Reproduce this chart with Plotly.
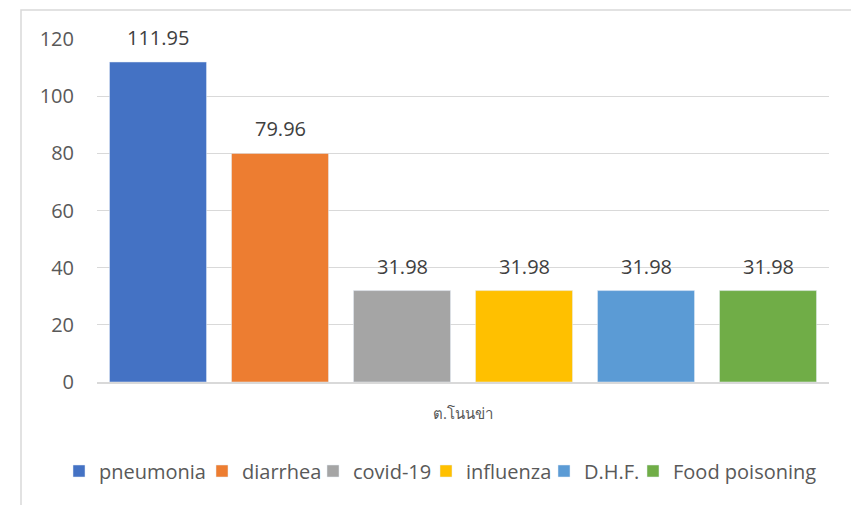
import plotly.graph_objects as go

category_label = "ต.โนนข่า"
series_names = ["pneumonia", "diarrhea", "covid-19", "influenza", "D.H.F.", "Food poisoning"]
series_values = [111.95, 79.96, 31.98, 31.98, 31.98, 31.98]
series_colors = ["#4472C4", "#ED7D31", "#A5A5A5", "#FFC000", "#5B9BD5", "#70AD47"]
legend_widths = [98, 66, 68, 73, 44, 148]
y_ticks = [0, 20, 40, 60, 80, 100, 120]

FONT = "Open Sans"
GRAY = "#595959"

OFF = 8  # page body margin
W, H = 859 - OFF, 505 - OFF
# plot area in reference pixel coordinates
PL, PR, PT, PB = 97, 829, 39, 382
L, R, T, B = PL - OFF, (W + OFF) - PR, PT - OFF, (H + OFF) - PB
pw, ph = PR - PL, PB - PT

def px_to_paper_x(px):
    return (px - PL) / pw

def px_to_paper_y(py):
    return (PB - py) / ph

fig = go.Figure()
for name, val, col, lw in zip(series_names, series_values, series_colors, legend_widths):
    fig.add_trace(go.Bar(x=[name], y=[val], name=name, marker_color=col, legendwidth=lw))

annotations = [
    dict(x=name, y=val, xref="x", yref="y", text=f"{val:.2f}", showarrow=False,
         yanchor="bottom", yshift=9,
         font=dict(family=FONT, size=20, color="#404040"))
    for name, val in zip(series_names, series_values)
]

fig.update_layout(
    width=W, height=H,
    margin=dict(l=L, r=R, t=T, b=B, autoexpand=False),
    paper_bgcolor="white", plot_bgcolor="white",
    barmode="overlay", bargap=0.205,
    font=dict(family=FONT, color=GRAY),
    showlegend=True,
    legend=dict(orientation="h", x=px_to_paper_x(59), xanchor="left",
                y=px_to_paper_y(471), yanchor="middle",
                font=dict(family=FONT, size=20, color=GRAY),
                traceorder="normal", bgcolor="rgba(0,0,0,0)"),
    xaxis=dict(showgrid=False, showline=True, linecolor="#D9D9D9", linewidth=1.5,
               showticklabels=False, ticks="",
               title=dict(text=category_label, standoff=26,
                          font=dict(family=FONT, size=15, color=GRAY))),
    yaxis=dict(range=[0, 120], tickvals=y_ticks, showgrid=True, gridcolor="#D9D9D9",
               gridwidth=1, zeroline=False, showline=False, ticks="",
               tickfont=dict(family=FONT, size=20, color=GRAY),
               ticklabelstandoff=22),
    annotations=annotations,
    shapes=[dict(type="rect", xref="paper", yref="paper",
                 x0=px_to_paper_x(21), x1=px_to_paper_x(857),
                 y0=px_to_paper_y(520), y1=px_to_paper_y(10),
                 line=dict(color="#D9D9D9", width=1.5), fillcolor="rgba(0,0,0,0)",
                 layer="below")],
)

fig.write_html("out.html")
